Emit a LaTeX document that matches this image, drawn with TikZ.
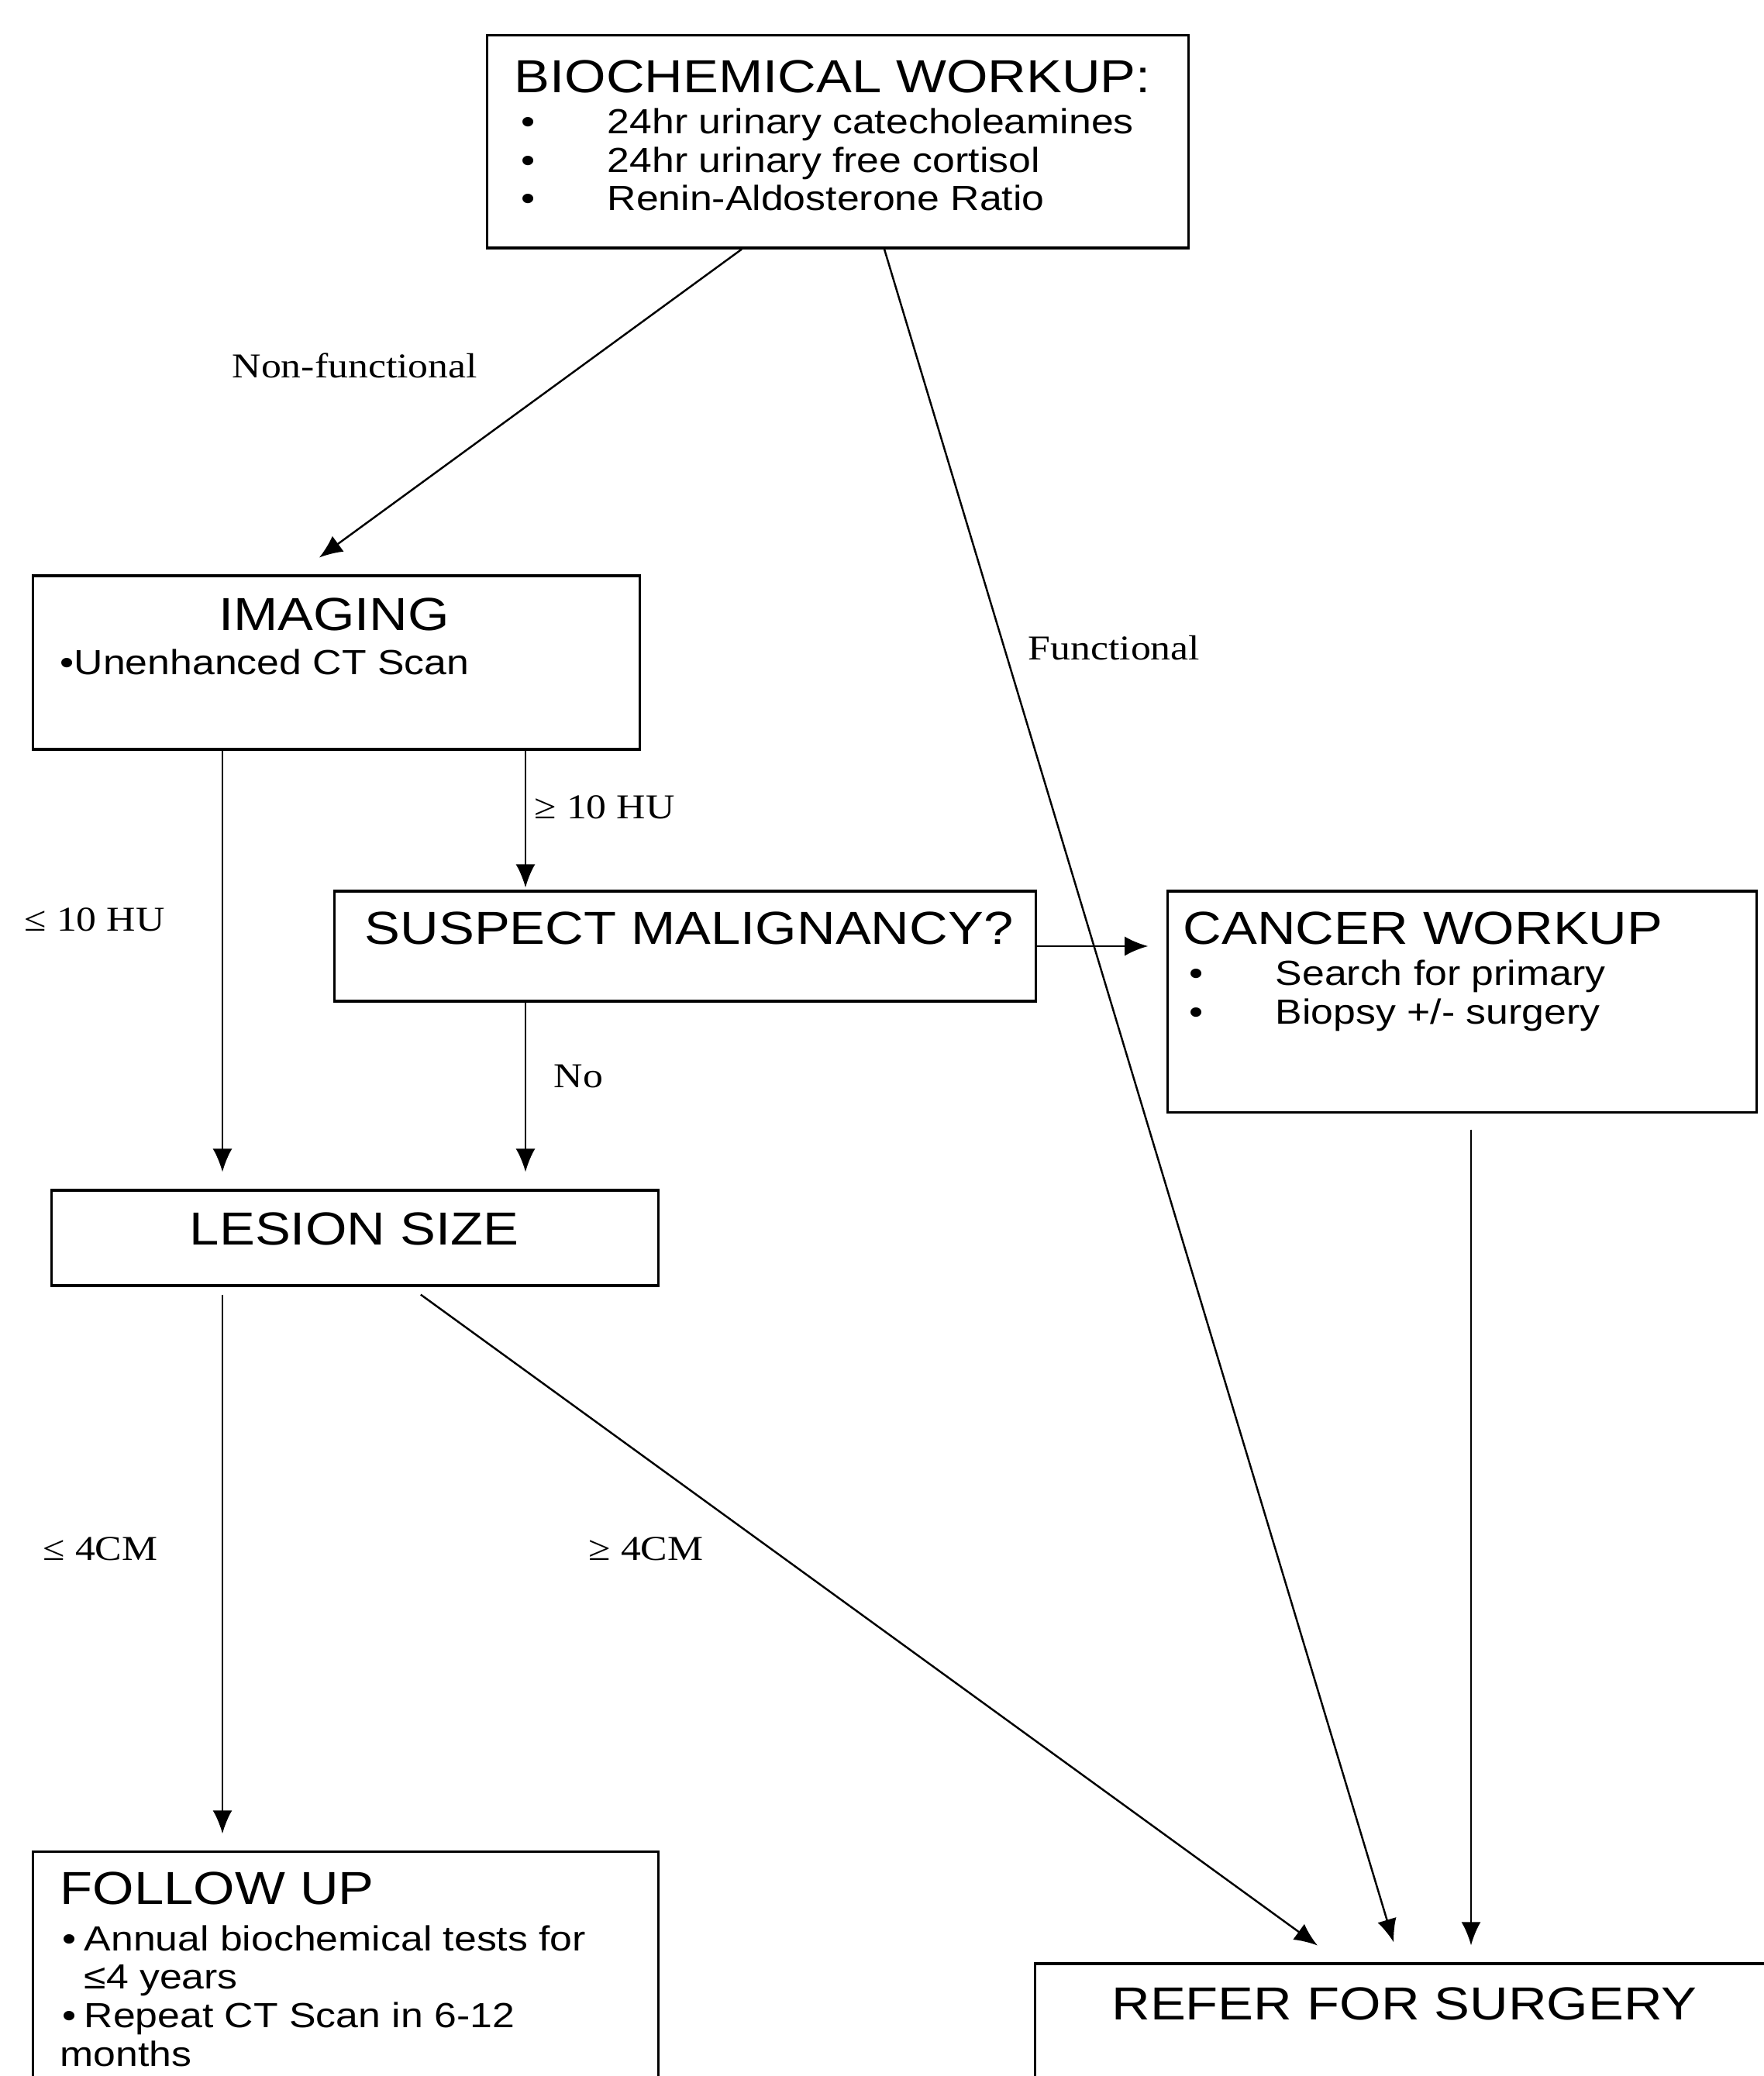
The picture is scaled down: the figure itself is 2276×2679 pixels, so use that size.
\documentclass[tikz,border=0pt]{standalone}
\usepackage{fontspec}
\setmainfont{Liberation Sans}[FakeStretch=1.15]
\newfontfamily\lblfont{Liberation Serif}[FakeStretch=1.15]
\usetikzlibrary{arrows.meta}
\newcommand{\hd}{\fontsize{17}{19}\selectfont}
\newcommand{\itm}{\fontsize{12.8}{14}\selectfont}
\newcommand{\bul}[1]{\makebox[#1][l]{\textbullet}}
\begin{document}
\begin{tikzpicture}[x=0.01cm, y=-0.01cm,
  box/.style={draw, line width=0.9pt, inner sep=0pt},
  head/.style={inner sep=0pt, font=\hd, anchor=base west},
  item/.style={inner sep=0pt, font=\itm, anchor=base west},
  lbl/.style={inner sep=0pt, font=\lblfont\fontsize{12.8}{14}\selectfont, anchor=base west},
  arr/.style={-{Latex[length=0.3cm, width=0.25cm]}, line width=0.7pt}]
  \useasboundingbox (0,0) rectangle (2276,2679);
  \clip (0,0) rectangle (2276,2679);
  % boxes
  \node[box, minimum width=9.04cm, minimum height=2.74cm] (bio) at (1081,183) {};
  \node[box, minimum width=7.82cm, minimum height=2.24cm] (img) at (434,855) {};
  \node[box, minimum width=9.04cm, minimum height=1.42cm] (sus) at (884,1221) {};
  \node[box, minimum width=7.59cm, minimum height=2.85cm] (canc) at (1886.5,1292.5) {};
  \node[box, minimum width=7.82cm, minimum height=1.23cm] (lsn) at (458,1597.5) {};
  \node[box, minimum width=8.06cm, minimum height=4.1cm] (fol) at (446,2595) {};
  \node[box, minimum width=10.64cm, minimum height=2.66cm] (ref) at (1868,2667) {};
  % box texts
  \node[head] (biohd) at (663,120) {BIOCHEMICAL WORKUP:};
  \foreach \y/\t [count=\i] in {173/24hr urinary catecholeamines,
      223/24hr urinary free cortisol, 272/Renin-Aldosterone Ratio}
    \node[item] (bioi\i) at (672,\y) {\bul{1.11cm}\t};
  \node[head, anchor=base] (imghd) at (431,813) {IMAGING};
  \node[item] (imgi) at (77,870) {\textbullet Unenhanced CT Scan};
  \node[head] (sushd) at (470,1218) {SUSPECT MALIGNANCY?};
  \node[head] (canchd) at (1526,1218) {CANCER WORKUP};
  \node[item] (canci1) at (1534,1271) {\bul{1.11cm}Search for primary};
  \node[item] (canci2) at (1534,1321) {\bul{1.11cm}Biopsy +/- surgery};
  \node[head, anchor=base] (lsnhd) at (457,1606) {LESION SIZE};
  \node[head] (folhd) at (77,2457) {FOLLOW UP};
  \node[item] (foli1) at (80,2517) {\bul{0.28cm}Annual biochemical tests for};
  \node[item] (foli2) at (108,2566) {≤4 years};
  \node[item] (foli3) at (80,2616) {\bul{0.28cm}Repeat CT Scan in 6-12};
  \node[item] (foli4) at (77,2666) {months};
  \node[head, anchor=base] (refhd) at (1812,2606) {REFER FOR SURGERY};
  % edge labels
  \node[lbl] (nf) at (299,487) {Non-functional};
  \node[lbl] (fn) at (1326,851) {Functional};
  \node[lbl] (le10) at (31,1201) {≤ 10 HU};
  \node[lbl] (ge10) at (689,1056) {≥ 10 HU};
  \node[lbl] (no) at (714,1403) {No};
  \node[lbl] (le4) at (55,2013) {≤ 4CM};
  \node[lbl] (ge4) at (759,2013) {≥ 4CM};
  % arrows
  \draw[arr, shorten >=0.37cm] ([xshift=-1.24cm]bio.south) -- ([xshift=-0.52cm]img.north);
  \draw[arr, shorten >=0.27cm] ([xshift=0.6cm]bio.south) -- ([xshift=-0.62cm]ref.north);
  \draw[arr, shorten >=0.22cm] (287,0 |- img.south) -- (287,0 |- lsn.north);
  \draw[arr, shorten >=0.03cm] (678,0 |- img.south) -- (678,0 |- sus.north);
  \draw[arr, shorten >=0.24cm] (sus.east) -- (sus.east -| canc.west);
  \draw[arr, shorten >=0.22cm] (678,0 |- sus.south) -- (678,0 |- lsn.north);
  \draw[arr, shorten <=0.1cm, shorten >=0.22cm] (287,0 |- lsn.south) -- (287,0 |- fol.north);
  \draw[arr, shorten <=0.17cm, shorten >=0.37cm] ([xshift=0.71cm]lsn.south) -- ([xshift=-1.38cm]ref.north);
  \draw[arr, shorten <=0.21cm, shorten >=0.22cm] (1898,0 |- canc.south) -- (1898,0 |- ref.north);
\end{tikzpicture}
\end{document}
